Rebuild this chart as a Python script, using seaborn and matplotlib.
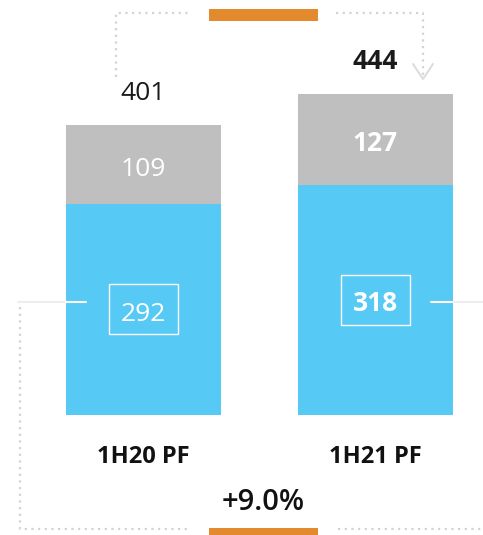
import matplotlib
matplotlib.use('Agg')
import matplotlib.pyplot as plt
from matplotlib.patches import Rectangle
from matplotlib.lines import Line2D
import pandas as pd
import seaborn as sns

# data
periods = ['1H20 PF', '1H21 PF']
core = [292, 318]
other = [109, 127]
totals = [401, 444]
growth_label = '+9.0%'
bold_period = ['normal', 'bold']

BLUE = '#56C9F4'
GREY = '#BFBFBF'
ORANGE = '#E3892E'
DOT = '#D3D3D3'

sns.set_theme(style='white')
plt.rcParams['font.family'] = ['Open Sans', 'DejaVu Sans']

df = pd.DataFrame({'period': periods, 'core': core,
                   'other': other, 'total': totals})

W, H = 483, 535
fig = plt.figure(figsize=(W / 100, H / 100), dpi=100)
ax = fig.add_axes([0, 0, 1, 1])

sns.barplot(data=df, x='period', y='total', color=GREY, width=0.67,
            saturation=1, linewidth=0, edgecolor='none', ax=ax)
sns.barplot(data=df, x='period', y='core', color=BLUE, width=0.67,
            saturation=1, linewidth=0, edgecolor='none', ax=ax)
ax.set_xlim(-0.62, 1.466)
ax.set_ylim(-166, 574)
ax.axis('off')


def px(x, y):
    return x / W, 1 - y / H


def fig_line(pts, **kw):
    xs, ys = zip(*[px(x, y) for x, y in pts])
    fig.add_artist(Line2D(xs, ys, transform=fig.transFigure, **kw))


def fig_rect(x0, y0, x1, y1, **kw):
    fx0, fy1 = px(x0, y1)
    fx1, fy0 = px(x1, y0)
    fig.add_artist(Rectangle((fx0, fy1), fx1 - fx0, fy0 - fy1,
                             transform=fig.transFigure, **kw))


for i, row in df.iterrows():
    w = bold_period[i]
    # total on top
    ax.annotate(str(row.total), xy=(i, row.total), xytext=(0, 18),
                textcoords='offset points', ha='center', va='baseline',
                fontsize=19, weight=w, color='#1a1a1a')
    # grey segment
    ax.annotate(str(row.other), xy=(i, (row.core + row.total) / 2),
                xytext=(0, -8), textcoords='offset points', ha='center',
                va='baseline', fontsize=19, weight=w, color='white')
    # blue segment with box
    ax.annotate(str(row.core), xy=(i, row.core / 2), xytext=(0, -8),
                textcoords='offset points', ha='center', va='baseline',
                fontsize=19, weight=w, color='white')
    ax.add_patch(Rectangle((i - 0.149, row.core / 2 - 34.5), 0.298, 69,
                           fill=False, ec='white', lw=1))
    # category
    ax.text(i, -66, row.period, ha='center', va='baseline', fontsize=17,
            weight='bold', color='#111111')

# connector lines at mid height
fig_line([(18, 302), (66, 302)], color='#EEEEEE', lw=1.5)
fig_line([(66, 302), (86, 302)], color='white', lw=1.5)
fig_line([(431, 302), (453, 302)], color='white', lw=1.5)
fig_line([(453, 302), (483, 302)], color='#EEEEEE', lw=1.5)

dots = dict(color=DOT, lw=1.6, linestyle=(0, (1, 2)))
# top bracket
fig_line([(116, 77), (116, 13), (190, 13)], **dots)
fig_line([(336, 13), (423, 13), (423, 76)], **dots)
fig_line([(413, 64), (423, 79), (433, 64)], color='#DDDDDD', lw=1.5)
fig_rect(209, 9, 318, 21, color=ORANGE, lw=0)

# bottom bracket
fig_line([(20, 307), (20, 529), (190, 529)], **dots)
fig_line([(338, 529), (483, 529)], **dots)
fig_rect(209, 528, 318, 536, color=ORANGE, lw=0)

fx, fy = px(263, 510)
fig.text(fx, fy, growth_label, ha='center', va='baseline', fontsize=21,
         weight='semibold', color='#111111')

fig.savefig('out.png', dpi=100)
